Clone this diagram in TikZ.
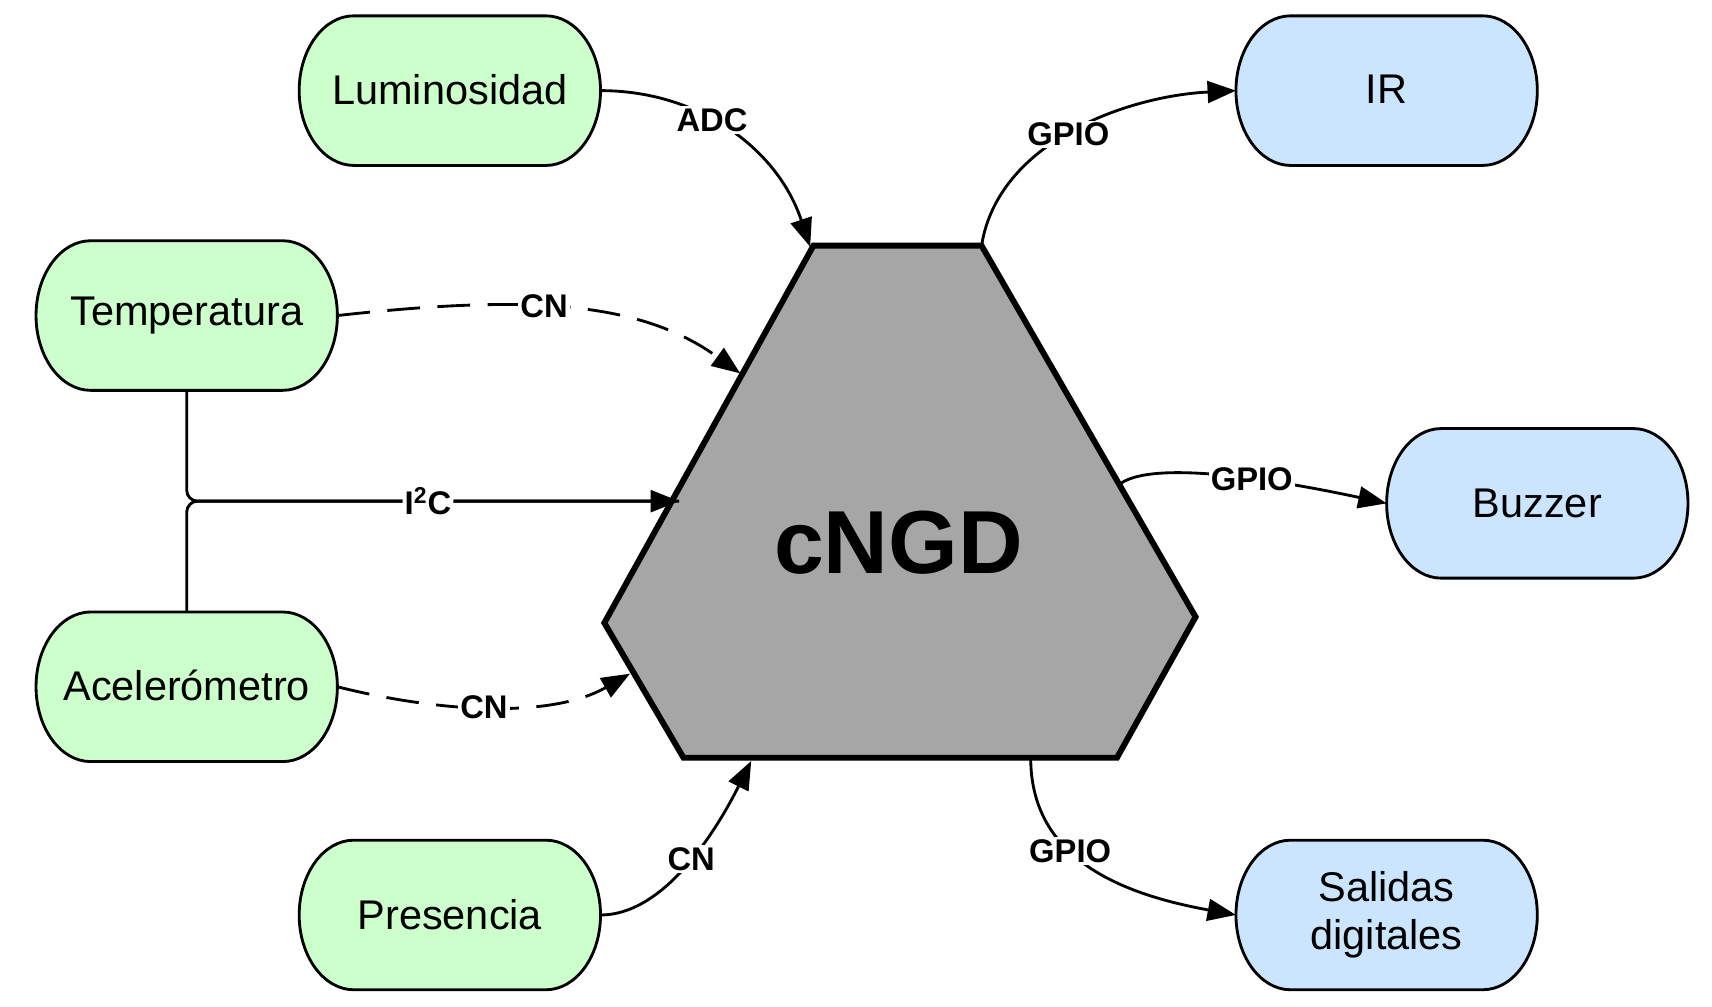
\documentclass[tikz,border=0pt]{standalone}
\usepackage{fontspec}
\setmainfont{Liberation Sans}
\usetikzlibrary{arrows.meta,calc}
\definecolor{greenfill}{RGB}{204,255,204}
\definecolor{bluefill}{RGB}{204,229,255}
\definecolor{hexgray}{RGB}{166,166,166}
\begin{document}
\begin{tikzpicture}[x=0.5pt,y=-0.5pt,
  termshape/.pic={
    \path[pic actions] (-88,-68.5) -- (88,-68.5)
      .. controls (115.6,-68.5) and (138,-37.8) .. (138,0)
      .. controls (138,37.8) and (115.6,68.5) .. (88,68.5)
      -- (-88,68.5)
      .. controls (-115.6,68.5) and (-138,37.8) .. (-138,0)
      .. controls (-138,-37.8) and (-115.6,-68.5) .. (-88,-68.5) -- cycle;
  },
  boxline/.style={draw=black, line width=1.3pt},
  boxtext/.style={inner sep=0pt, outer sep=0pt, minimum width=138pt, minimum height=68.5pt,
    font=\fontsize{19}{22}\selectfont, align=center},
  conn/.style={line width=1.3pt, draw=black},
  tip/.style={-{Triangle[length=13pt,width=10pt]}},
  lbl/.style={fill=white, inner sep=1pt, font=\bfseries\fontsize{15}{16}\selectfont},
  cndash/.style={dash pattern=on 15pt off 8pt}]

\useasboundingbox (0,0) rectangle (1568,922);

% boxes
\pic[boxline, fill=greenfill] at (412,83) {termshape};
\pic[boxline, fill=greenfill] at (171,289) {termshape};
\pic[boxline, fill=greenfill] at (171,629) {termshape};
\pic[boxline, fill=greenfill] at (412,838) {termshape};
\pic[boxline, fill=bluefill] at (1270,83) {termshape};
\pic[boxline, fill=bluefill] at (1408,461) {termshape};
\pic[boxline, fill=bluefill] at (1270,838) {termshape};

\node[boxtext] (lum) at (412,83) {\raisebox{1.5pt}{Luminosidad}};
\node[boxtext] (temp) at (171,289) {Temperatura};
\node[boxtext] (acc) at (171,629) {\raisebox{1.5pt}{Acelerómetro}};
\node[boxtext] (pres) at (412,838) {Presencia};
\node[boxtext] (ir) at (1270,83) {\raisebox{1.5pt}{IR}};
\node[boxtext] (buz) at (1408,461) {Buzzer};
\node[boxtext] (sal) at (1270,838) {Salidas\\digitales};

% central hexagon
\draw[line width=2.7pt, fill=hexgray]
  (745,225) coordinate (hTL) -- (899,225) coordinate (hTR)
  -- (1095,565) coordinate (hR) -- (1023,694) coordinate (hBR)
  -- (626,694) coordinate (hBL) -- (553.5,570.5) coordinate (hL) -- cycle;
\node[font=\bfseries\fontsize{41}{41}\selectfont, inner sep=0pt] (cngd) at (823,497) {cNGD};

% connector end points on the hexagon
\coordinate (aADC) at (742,226);
\coordinate (aCNt) at (678,342);
\coordinate (aI2C) at (622,459);
\coordinate (aCNa) at (577,617);
\coordinate (aCNp) at (688,697);
\coordinate (sIR) at (899,225);
\coordinate (sBuz) at (1026,443);
\coordinate (sSal) at (944,694);

% inputs
\draw[conn,tip] (lum.east) .. controls +(90,0) and +(-30,-90) .. (aADC)
  node[lbl,pos=0.42] {ADC};
\draw[conn,tip,cndash] (temp.east) .. controls +(180,-20) and +(-90,-65) .. (aCNt)
  node[lbl,pos=0.42] {CN};
\draw[conn, rounded corners=5pt] (temp.south) |- (aI2C);
\draw[conn,tip, rounded corners=5pt] (acc.north) |- (aI2C)
  node[lbl,pos=0.745] {I\textsuperscript{2}C};
\draw[conn,tip,cndash] (acc.east) .. controls +(100,25) and +(-70,40) .. (aCNa)
  node[lbl,pos=0.46] {CN};
\draw[conn,tip] (pres.east) .. controls +(60,0) and +(-30,60) .. (aCNp)
  node[lbl,pos=0.52] {CN};

% outputs
\draw[conn,tip] (sIR) .. controls +(15,-95) and +(-100,5) .. (ir.west)
  node[lbl,pos=0.48] {GPIO};
\draw[conn,tip] (sBuz) .. controls +(35,-25) and +(-70,-15) .. (buz.west)
  node[lbl,pos=0.54] {GPIO};
\draw[conn,tip] (sSal) .. controls +(0,90) and +(-110,-20) .. (sal.west)
  node[lbl,pos=0.41] {GPIO};
\end{tikzpicture}
\end{document}
